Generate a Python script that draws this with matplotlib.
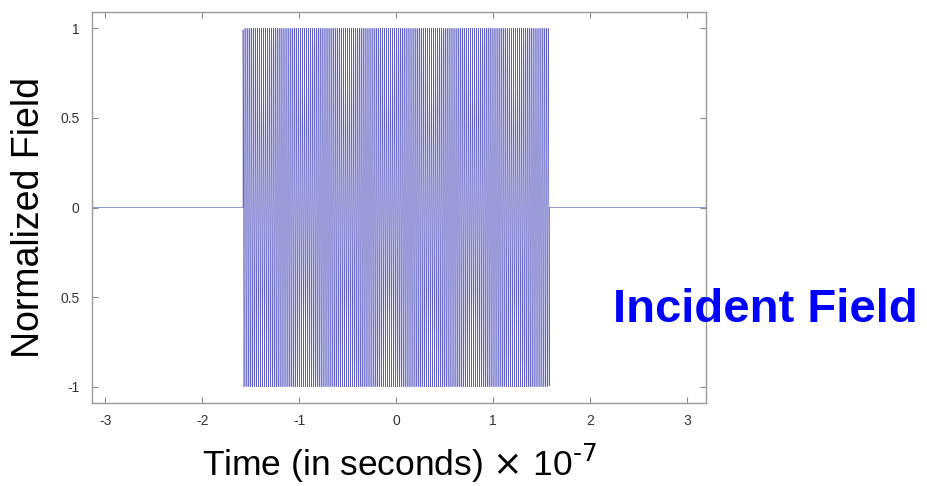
import numpy as np
import matplotlib.pyplot as plt

plt.rcParams['font.family'] = ['Liberation Sans', 'DejaVu Sans']
plt.rcParams['axes.unicode_minus'] = False

# pulse parameters (time in units of 1e-7 s)
t_span = [-3.14, 3.2]
pulse_on = -1.58
pulse_off = 1.58
carrier_cycles = 47.3      # cycles per 1e-7 s
amplitude = 1.0

xticks = [-3, -2, -1, 0, 1, 2, 3]
yticks = [-1, -0.5, 0, 0.5, 1]
ytick_labels = ['-1', '0.5', '0', '0.5', '1']

t = np.linspace(t_span[0], t_span[1], 60000)
field = np.where((t >= pulse_on) & (t <= pulse_off),
                 amplitude * np.sin(2 * np.pi * carrier_cycles * t), 0.0)

fig = plt.figure(figsize=(9.28, 4.86), dpi=100)
ax = fig.add_axes([0.099, 0.171, 0.662, 0.804])

ax.plot(t, field, color='#5e5ec2', lw=0.45)

ax.set_xlim(t_span)
ax.set_ylim(-1.09, 1.09)
ax.set_xticks(xticks)
ax.set_yticks(yticks)
ax.set_yticklabels(ytick_labels)
ax.tick_params(direction='in', length=4, color='#888888', labelsize=10,
               top=True, right=True, labelcolor='#333333')
ax.tick_params(axis='x', pad=8)
ax.tick_params(axis='y', pad=9)
for s in ax.spines.values():
    s.set_color('#999999')
    s.set_linewidth(1.0)

ax.set_xlabel('Time (in seconds) $\\times$ 10$^{\\text{-7}}$', fontsize=25.5, labelpad=10)
fig.text(0.031, 0.553, 'Normalized Field', fontsize=27, rotation=90,
         ha='center', va='center')

fig.text(0.661, 0.362, 'Incident Field', color='#0000ff', fontsize=34,
         fontweight='bold', va='center', ha='left')

fig.savefig('out.png', dpi=100)
